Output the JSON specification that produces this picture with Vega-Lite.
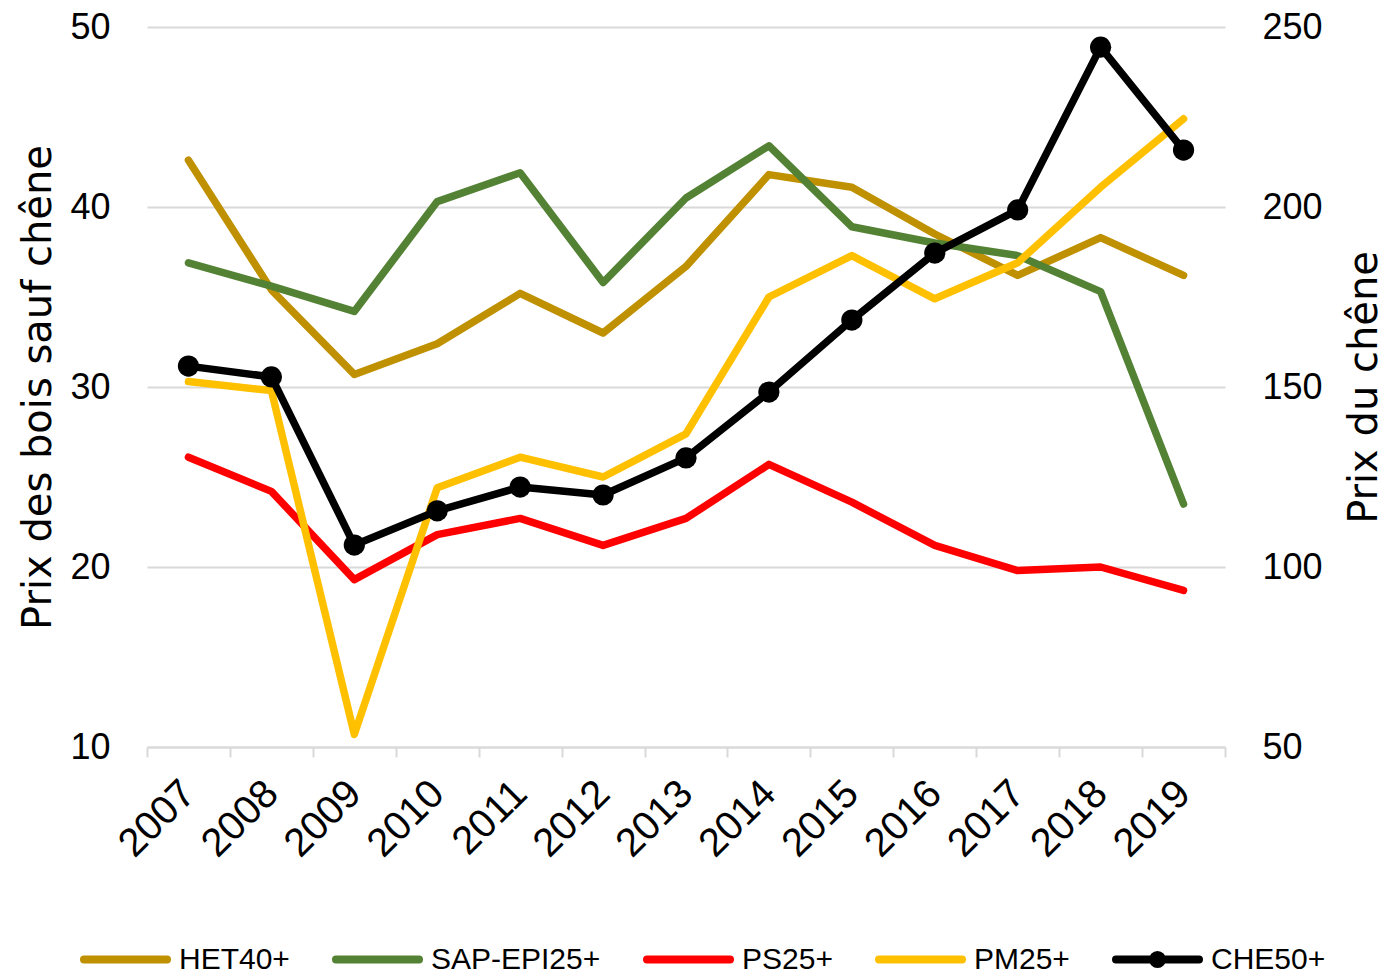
{
  "$schema": "https://vega.github.io/schema/vega-lite/v6.json",
  "autosize": {"type": "none"},
  "width": 1078,
  "height": 720,
  "padding": {"left": 147, "top": 27, "right": 161, "bottom": 229},
  "background": "white",
  "config": {
    "view": {"stroke": null},
    "font": "Liberation Sans, sans-serif"
  },
  "data": {
    "values": [
      {"year": "2007", "series": "HET40+", "value": 42.6},
      {"year": "2008", "series": "HET40+", "value": 35.4},
      {"year": "2009", "series": "HET40+", "value": 30.7},
      {"year": "2010", "series": "HET40+", "value": 32.4},
      {"year": "2011", "series": "HET40+", "value": 35.2},
      {"year": "2012", "series": "HET40+", "value": 33.0},
      {"year": "2013", "series": "HET40+", "value": 36.7},
      {"year": "2014", "series": "HET40+", "value": 41.8},
      {"year": "2015", "series": "HET40+", "value": 41.1},
      {"year": "2016", "series": "HET40+", "value": 38.5},
      {"year": "2017", "series": "HET40+", "value": 36.2},
      {"year": "2018", "series": "HET40+", "value": 38.3},
      {"year": "2019", "series": "HET40+", "value": 36.2},
      {"year": "2007", "series": "SAP-EPI25+", "value": 36.9},
      {"year": "2008", "series": "SAP-EPI25+", "value": 35.6},
      {"year": "2009", "series": "SAP-EPI25+", "value": 34.2},
      {"year": "2010", "series": "SAP-EPI25+", "value": 40.3},
      {"year": "2011", "series": "SAP-EPI25+", "value": 41.9},
      {"year": "2012", "series": "SAP-EPI25+", "value": 35.8},
      {"year": "2013", "series": "SAP-EPI25+", "value": 40.5},
      {"year": "2014", "series": "SAP-EPI25+", "value": 43.4},
      {"year": "2015", "series": "SAP-EPI25+", "value": 38.9},
      {"year": "2016", "series": "SAP-EPI25+", "value": 38.0},
      {"year": "2017", "series": "SAP-EPI25+", "value": 37.3},
      {"year": "2018", "series": "SAP-EPI25+", "value": 35.3},
      {"year": "2019", "series": "SAP-EPI25+", "value": 23.5},
      {"year": "2007", "series": "PS25+", "value": 26.1},
      {"year": "2008", "series": "PS25+", "value": 24.2},
      {"year": "2009", "series": "PS25+", "value": 19.3},
      {"year": "2010", "series": "PS25+", "value": 21.8},
      {"year": "2011", "series": "PS25+", "value": 22.7},
      {"year": "2012", "series": "PS25+", "value": 21.2},
      {"year": "2013", "series": "PS25+", "value": 22.7},
      {"year": "2014", "series": "PS25+", "value": 25.7},
      {"year": "2015", "series": "PS25+", "value": 23.6},
      {"year": "2016", "series": "PS25+", "value": 21.2},
      {"year": "2017", "series": "PS25+", "value": 19.8},
      {"year": "2018", "series": "PS25+", "value": 20.0},
      {"year": "2019", "series": "PS25+", "value": 18.7},
      {"year": "2007", "series": "PM25+", "value": 30.3},
      {"year": "2008", "series": "PM25+", "value": 29.8},
      {"year": "2009", "series": "PM25+", "value": 10.7},
      {"year": "2010", "series": "PM25+", "value": 24.4},
      {"year": "2011", "series": "PM25+", "value": 26.1},
      {"year": "2012", "series": "PM25+", "value": 25.0},
      {"year": "2013", "series": "PM25+", "value": 27.4},
      {"year": "2014", "series": "PM25+", "value": 35.0},
      {"year": "2015", "series": "PM25+", "value": 37.3},
      {"year": "2016", "series": "PM25+", "value": 34.9},
      {"year": "2017", "series": "PM25+", "value": 36.9},
      {"year": "2018", "series": "PM25+", "value": 41.1},
      {"year": "2019", "series": "PM25+", "value": 44.9},
      {"year": "2007", "series": "CHE50+", "value": 155.8},
      {"year": "2008", "series": "CHE50+", "value": 152.8},
      {"year": "2009", "series": "CHE50+", "value": 106.1},
      {"year": "2010", "series": "CHE50+", "value": 115.6},
      {"year": "2011", "series": "CHE50+", "value": 122.2},
      {"year": "2012", "series": "CHE50+", "value": 120.0},
      {"year": "2013", "series": "CHE50+", "value": 130.3},
      {"year": "2014", "series": "CHE50+", "value": 148.6},
      {"year": "2015", "series": "CHE50+", "value": 168.6},
      {"year": "2016", "series": "CHE50+", "value": 187.2},
      {"year": "2017", "series": "CHE50+", "value": 199.2},
      {"year": "2018", "series": "CHE50+", "value": 244.4},
      {"year": "2019", "series": "CHE50+", "value": 215.8}
    ]
  },
  "encoding": {
    "x": {
      "field": "year",
      "type": "ordinal",
      "scale": {"type": "band", "paddingInner": 0, "paddingOuter": 0},
      "axis": {
        "title": null,
        "tickBand": "extent",
        "grid": false,
        "domainColor": "#d9d9d9",
        "domainWidth": 2,
        "tickColor": "#d9d9d9",
        "tickWidth": 2,
        "tickSize": 10,
        "labelAngle": -45,
        "labelAlign": "right",
        "labelBaseline": "middle",
        "labelPadding": 30,
        "labelFontSize": 40,
        "labelColor": "#000000"
      }
    },
    "color": {
      "field": "series",
      "type": "nominal",
      "scale": {
        "domain": ["HET40+", "SAP-EPI25+", "PS25+", "PM25+", "CHE50+"],
        "range": ["#BF9000", "#548235", "#FF0000", "#FFC000", "#000000"]
      },
      "legend": {
        "title": null,
        "orient": "none",
        "legendX": -67,
        "legendY": 887,
        "direction": "horizontal",
        "symbolType": "M-1,0L1,0",
        "symbolSize": 6889,
        "symbolStrokeWidth": 8,
        "labelFontSize": 30,
        "labelColor": "#000000",
        "labelOffset": 8,
        "columnPadding": 30,
        "labelLimit": 300,
        "encode": {
          "symbols": {
            "update": {
              "shape": {"signal": "datum.value === 'CHE50+' ? 'M-1,0L1,0M0.11,0A0.11,0.11 0 1,1 -0.11,0A0.11,0.11 0 1,1 0.11,0ZM0,-0.3M0,0.3' : 'M-1,0L1,0M0,-0.3M0,0.3'"},
              "fill": {"signal": "datum.value === 'CHE50+' ? '#000000' : 'transparent'"},
              "strokeCap": {"value": "round"}
            }
          }
        }
      }
    }
  },
  "layer": [
    {
      "transform": [{"filter": "datum.series !== 'CHE50+'"}],
      "mark": {"type": "line", "strokeWidth": 7.5, "strokeCap": "round", "strokeJoin": "round"},
      "encoding": {
        "y": {
          "field": "value",
          "type": "quantitative",
          "scale": {"domain": [10, 50], "nice": false, "zero": false},
          "axis": {
            "title": "Prix des bois sauf chêne",
            "titleFont": "DejaVu Sans, sans-serif",
            "titleFontSize": 40,
            "titleFontWeight": "normal",
            "titleColor": "#000000",
            "titlePadding": 11,
            "values": [10, 20, 30, 40, 50],
            "grid": true,
            "gridColor": "#d9d9d9",
            "gridWidth": 2,
            "domain": false,
            "ticks": false,
            "labelPadding": 37,
            "labelFontSize": 36,
            "labelColor": "#000000"
          }
        }
      }
    },
    {
      "transform": [{"filter": "datum.series === 'CHE50+'"}],
      "encoding": {
        "y": {
          "field": "value",
          "type": "quantitative",
          "scale": {"domain": [50, 250], "nice": false, "zero": false},
          "axis": {
            "orient": "right",
            "title": "Prix du chêne",
            "titleFont": "DejaVu Sans, sans-serif",
            "titleFontSize": 40,
            "titleFontWeight": "normal",
            "titleColor": "#000000",
            "titleAngle": 270,
            "titleBaseline": "top",
            "titlePadding": 22,
            "values": [50, 100, 150, 200, 250],
            "grid": false,
            "domain": false,
            "ticks": false,
            "labelPadding": 37,
            "labelFontSize": 36,
            "labelColor": "#000000"
          }
        }
      },
      "layer": [
        {"mark": {"type": "line", "strokeWidth": 7.5, "strokeCap": "round", "strokeJoin": "round"}},
        {"mark": {"type": "point", "filled": true, "opacity": 1, "size": 450, "shape": "circle"}}
      ]
    }
  ],
  "resolve": {"scale": {"y": "independent"}}
}
